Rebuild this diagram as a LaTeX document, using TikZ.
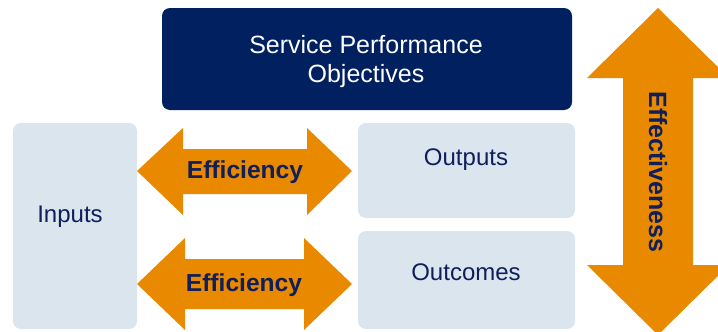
\documentclass[tikz,border=0pt]{standalone}
\usepackage{fontspec}
\setmainfont{Liberation Sans}
\definecolor{navy}{RGB}{0,32,96}
\definecolor{txtnavy}{RGB}{16,30,90}
\definecolor{lightbox}{RGB}{218,229,238}
\definecolor{orng}{RGB}{232,137,0}
\begin{document}
\begin{tikzpicture}[x=1pt,y=-1pt,
  darkbox/.style={rectangle,rounded corners=8pt,fill=navy,draw=none,inner sep=0pt},
  lbox/.style={rectangle,rounded corners=8pt,fill=lightbox,draw=none,inner sep=0pt},
  arr/.style={fill=orng,draw=none},
  lbl/.style={font=\fontsize{24}{28}\selectfont,text=txtnavy,inner sep=0pt},
  arrlbl/.style={font=\fontsize{24.6}{28}\selectfont\bfseries,text=txtnavy,inner sep=0pt}]
\useasboundingbox (0,0) rectangle (718,332);
\begin{scope}
\clip (0,0) rectangle (718,332);
% boxes
\node[darkbox,minimum width=410pt,minimum height=102pt] (obj) at (367,59) {};
\node[lbox,minimum width=124pt,minimum height=206pt] (inputs) at (75,226) {};
\node[lbox,minimum width=217pt,minimum height=95pt] (outputs) at (466.5,170.5) {};
\node[lbox,minimum width=217pt,minimum height=98pt] (outcomes) at (466.5,280) {};
% arrows
\path[arr] (137,171) -- (183,128) -- (183,149) -- (307,149) -- (307,128) -- (352,171)
  -- (307,215) -- (307,194) -- (183,194) -- (183,215) -- cycle;
\path[arr] (137,284) -- (185,238) -- (185,259) -- (304,259) -- (304,238) -- (352,284)
  -- (304,330) -- (304,309) -- (185,309) -- (185,330) -- cycle;
\path[arr] (658,8) -- (729,78) -- (693,78) -- (693,265) -- (729,265) -- (658,335)
  -- (587,265) -- (623,265) -- (623,78) -- (587,78) -- cycle;
\end{scope}
% texts
\node[font=\fontsize{25}{29}\selectfont,text=white,align=center,inner sep=0pt] (objt) at (366,62) {Service Performance\\Objectives};
\node[lbl] (inputst) at (70,217) {Inputs};
\node[lbl] (outputst) at (466,160) {Outputs};
\node[lbl] (outcomest) at (466,272) {Outcomes};
\node[arrlbl] (eff1) at (245,172) {Efficiency};
\node[arrlbl] (eff2) at (244,285) {Efficiency};
\node[arrlbl,font=\fontsize{25}{28}\selectfont\bfseries,rotate=-90] (effect) at (658,172) {Effectiveness};
\end{tikzpicture}
\end{document}
